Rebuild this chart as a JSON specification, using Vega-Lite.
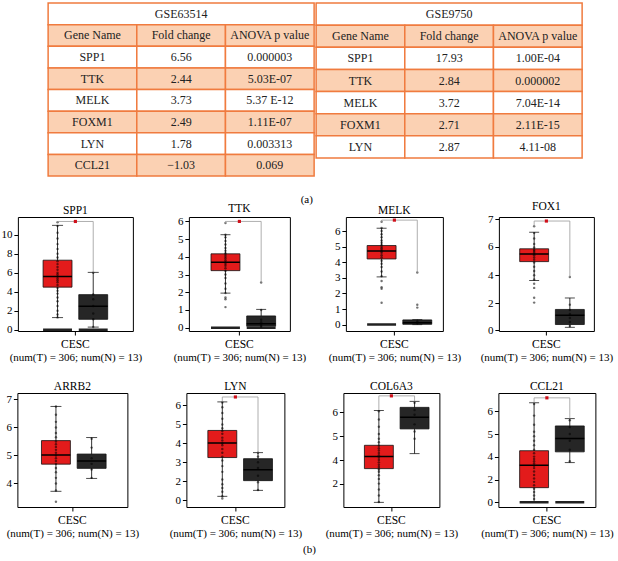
{
"$schema": "https://vega.github.io/schema/vega-lite/v6.json",
"padding": {"left": 0, "right": 0, "top": 2, "bottom": 0},
"config": {
 "font": "Liberation Serif",
 "view": {"stroke": "#000", "strokeWidth": 1},
 "axis": {"labelFont": "Liberation Serif", "titleFont": "Liberation Serif", "labelOverlap": false},
 "axisY": {"domain": false, "grid": false, "tickSize": 4, "tickColor": "#000", "labelColor": "#000", "labelFontSize": 11, "labelPadding": 2, "title": null, "labelOverlap": false},
 "axisX": {"domain": false, "grid": false, "tickSize": 4, "tickColor": "#000", "labelAngle": 0, "labelFontSize": 11.5, "labelColor": "#000", "titleFontSize": 11, "titleFontWeight": "normal", "titlePadding": 2, "titleColor": "#000", "labelPadding": 3},
 "title": {"font": "Liberation Serif", "fontSize": 11.5, "fontWeight": "normal", "offset": 1, "color": "#000"}
},
"datasets": {
 "tb": [
  {"tb":"L","r":"title","t":"GSE63514","hl":false},
  {"tb":"L","r":"header","col":"Gene Name","t":"Gene Name","hl":true},
  {"tb":"L","r":"header","col":"Fold change","t":"Fold change","hl":true},
  {"tb":"L","r":"header","col":"ANOVA p value","t":"ANOVA p value","hl":true},
  {"tb":"L","r":"SPP1","col":"Gene Name","t":"SPP1","hl":false},
  {"tb":"L","r":"SPP1","col":"Fold change","t":"6.56","hl":false},
  {"tb":"L","r":"SPP1","col":"ANOVA p value","t":"0.000003","hl":false},
  {"tb":"L","r":"TTK","col":"Gene Name","t":"TTK","hl":true},
  {"tb":"L","r":"TTK","col":"Fold change","t":"2.44","hl":true},
  {"tb":"L","r":"TTK","col":"ANOVA p value","t":"5.03E-07","hl":true},
  {"tb":"L","r":"MELK","col":"Gene Name","t":"MELK","hl":false},
  {"tb":"L","r":"MELK","col":"Fold change","t":"3.73","hl":false},
  {"tb":"L","r":"MELK","col":"ANOVA p value","t":"5.37 E-12","hl":false},
  {"tb":"L","r":"FOXM1","col":"Gene Name","t":"FOXM1","hl":true},
  {"tb":"L","r":"FOXM1","col":"Fold change","t":"2.49","hl":true},
  {"tb":"L","r":"FOXM1","col":"ANOVA p value","t":"1.11E-07","hl":true},
  {"tb":"L","r":"LYN","col":"Gene Name","t":"LYN","hl":false},
  {"tb":"L","r":"LYN","col":"Fold change","t":"1.78","hl":false},
  {"tb":"L","r":"LYN","col":"ANOVA p value","t":"0.003313","hl":false},
  {"tb":"L","r":"CCL21","col":"Gene Name","t":"CCL21","hl":true},
  {"tb":"L","r":"CCL21","col":"Fold change","t":"−1.03","hl":true},
  {"tb":"L","r":"CCL21","col":"ANOVA p value","t":"0.069","hl":true},
  {"tb":"R","r":"title","t":"GSE9750","hl":false},
  {"tb":"R","r":"header","col":"Gene Name","t":"Gene Name","hl":true},
  {"tb":"R","r":"header","col":"Fold change","t":"Fold change","hl":true},
  {"tb":"R","r":"header","col":"ANOVA p value","t":"ANOVA p value","hl":true},
  {"tb":"R","r":"SPP1","col":"Gene Name","t":"SPP1","hl":false},
  {"tb":"R","r":"SPP1","col":"Fold change","t":"17.93","hl":false},
  {"tb":"R","r":"SPP1","col":"ANOVA p value","t":"1.00E-04","hl":false},
  {"tb":"R","r":"TTK","col":"Gene Name","t":"TTK","hl":true},
  {"tb":"R","r":"TTK","col":"Fold change","t":"2.84","hl":true},
  {"tb":"R","r":"TTK","col":"ANOVA p value","t":"0.000002","hl":true},
  {"tb":"R","r":"MELK","col":"Gene Name","t":"MELK","hl":false},
  {"tb":"R","r":"MELK","col":"Fold change","t":"3.72","hl":false},
  {"tb":"R","r":"MELK","col":"ANOVA p value","t":"7.04E-14","hl":false},
  {"tb":"R","r":"FOXM1","col":"Gene Name","t":"FOXM1","hl":true},
  {"tb":"R","r":"FOXM1","col":"Fold change","t":"2.71","hl":true},
  {"tb":"R","r":"FOXM1","col":"ANOVA p value","t":"2.11E-15","hl":true},
  {"tb":"R","r":"LYN","col":"Gene Name","t":"LYN","hl":false},
  {"tb":"R","r":"LYN","col":"Fold change","t":"2.87","hl":false},
  {"tb":"R","r":"LYN","col":"ANOVA p value","t":"4.11-08","hl":false}
 ],
 "bx": [
  {"p":"SPP1","c":"CESC","k":"box","g":"T","lo":1.28,"q1":4.48,"med":5.59,"q3":7.31,"hi":10.97},
  {"p":"SPP1","c":"CESC","k":"box","g":"N","lo":0.28,"q1":1.1,"med":2.48,"q3":3.69,"hi":6.03},
  {"p":"TTK","c":"CESC","k":"box","g":"T","lo":1.95,"q1":3.22,"med":3.69,"q3":4.17,"hi":5.25},
  {"p":"TTK","c":"CESC","k":"box","g":"N","lo":0,"q1":0.08,"med":0.22,"q3":0.66,"hi":1.03},
  {"p":"MELK","c":"CESC","k":"box","g":"T","lo":3.06,"q1":4.21,"med":4.72,"q3":5.07,"hi":6.18},
  {"p":"MELK","c":"CESC","k":"box","g":"N","lo":0,"q1":0.02,"med":0.12,"q3":0.3,"hi":0.32},
  {"p":"FOX1","c":"CESC","k":"box","g":"T","lo":3.63,"q1":4.96,"med":5.49,"q3":5.86,"hi":6.53},
  {"p":"FOX1","c":"CESC","k":"box","g":"N","lo":0.2,"q1":0.41,"med":1.1,"q3":1.54,"hi":2.38},
  {"p":"ARRB2","c":"CESC","k":"box","g":"T","lo":3.72,"q1":4.69,"med":5.02,"q3":5.53,"hi":6.75},
  {"p":"ARRB2","c":"CESC","k":"box","g":"N","lo":4.18,"q1":4.54,"med":4.8,"q3":5.05,"hi":5.64},
  {"p":"LYN","c":"CESC","k":"box","g":"T","lo":0.42,"q1":3.25,"med":4.02,"q3":4.68,"hi":6.18},
  {"p":"LYN","c":"CESC","k":"box","g":"N","lo":1.05,"q1":2.04,"med":2.61,"q3":3.19,"hi":3.51},
  {"p":"COL6A3","c":"CESC","k":"box","g":"T","lo":0.42,"q1":3.27,"med":4.15,"q3":4.62,"hi":6.08},
  {"p":"COL6A3","c":"CESC","k":"box","g":"N","lo":4.27,"q1":5.31,"med":5.8,"q3":6.21,"hi":6.46},
  {"p":"CCL21","c":"CESC","k":"box","g":"T","lo":0,"q1":1.29,"med":3.25,"q3":4.26,"hi":6.36},
  {"p":"CCL21","c":"CESC","k":"box","g":"N","lo":3.48,"q1":4.21,"med":4.8,"q3":5.35,"hi":5.67},

  {"p":"SPP1","c":"CESC","k":"zero","g":"T","v":0},
  {"p":"SPP1","c":"CESC","k":"zero","g":"N","v":0},
  {"p":"TTK","c":"CESC","k":"zero","g":"T","v":0},
  {"p":"TTK","c":"CESC","k":"zero","g":"N","v":0},
  {"p":"MELK","c":"CESC","k":"zero","g":"T","v":0},
  {"p":"CCL21","c":"CESC","k":"zero","g":"T","v":0},
  {"p":"CCL21","c":"CESC","k":"zero","g":"N","v":0},

  {"p":"SPP1","c":"CESC","k":"brk","g":"T","v":11.3,"s":1},
  {"p":"SPP1","c":"CESC","k":"brk","g":"T","v":11.38,"s":2},
  {"p":"SPP1","c":"CESC","k":"brk","g":"N","v":11.38,"s":3},
  {"p":"SPP1","c":"CESC","k":"brk","g":"N","v":6.03,"s":4},
  {"p":"TTK","c":"CESC","k":"brk","g":"T","v":5.91,"s":1},
  {"p":"TTK","c":"CESC","k":"brk","g":"T","v":6.0,"s":2},
  {"p":"TTK","c":"CESC","k":"brk","g":"N","v":6.0,"s":3},
  {"p":"TTK","c":"CESC","k":"brk","g":"N","v":2.55,"s":4},
  {"p":"MELK","c":"CESC","k":"brk","g":"T","v":6.6,"s":1},
  {"p":"MELK","c":"CESC","k":"brk","g":"T","v":6.7,"s":2},
  {"p":"MELK","c":"CESC","k":"brk","g":"N","v":6.7,"s":3},
  {"p":"MELK","c":"CESC","k":"brk","g":"N","v":3.34,"s":4},
  {"p":"FOX1","c":"CESC","k":"brk","g":"T","v":6.75,"s":1},
  {"p":"FOX1","c":"CESC","k":"brk","g":"T","v":6.94,"s":2},
  {"p":"FOX1","c":"CESC","k":"brk","g":"N","v":6.94,"s":3},
  {"p":"FOX1","c":"CESC","k":"brk","g":"N","v":3.88,"s":4},
  {"p":"LYN","c":"CESC","k":"brk","g":"T","v":6.2,"s":1},
  {"p":"LYN","c":"CESC","k":"brk","g":"T","v":6.44,"s":2},
  {"p":"LYN","c":"CESC","k":"brk","g":"N","v":6.44,"s":3},
  {"p":"LYN","c":"CESC","k":"brk","g":"N","v":3.51,"s":4},
  {"p":"COL6A3","c":"CESC","k":"brk","g":"T","v":6.1,"s":1},
  {"p":"COL6A3","c":"CESC","k":"brk","g":"T","v":6.69,"s":2},
  {"p":"COL6A3","c":"CESC","k":"brk","g":"N","v":6.69,"s":3},
  {"p":"COL6A3","c":"CESC","k":"brk","g":"N","v":6.46,"s":4},
  {"p":"CCL21","c":"CESC","k":"brk","g":"T","v":6.36,"s":1},
  {"p":"CCL21","c":"CESC","k":"brk","g":"T","v":6.57,"s":2},
  {"p":"CCL21","c":"CESC","k":"brk","g":"N","v":6.57,"s":3},
  {"p":"CCL21","c":"CESC","k":"brk","g":"N","v":5.67,"s":4},

  {"p":"SPP1","c":"CESC","k":"sig","v":11.38},
  {"p":"TTK","c":"CESC","k":"sig","v":6.0},
  {"p":"MELK","c":"CESC","k":"sig","v":6.7},
  {"p":"FOX1","c":"CESC","k":"sig","v":6.94},
  {"p":"LYN","c":"CESC","k":"sig","v":6.44},
  {"p":"COL6A3","c":"CESC","k":"sig","v":6.69},
  {"p":"CCL21","c":"CESC","k":"sig","v":6.57},

  {"p":"SPP1","c":"CESC","k":"pt","g":"T","v":1.3},{"p":"SPP1","c":"CESC","k":"pt","g":"T","v":1.6},{"p":"SPP1","c":"CESC","k":"pt","g":"T","v":2.0},{"p":"SPP1","c":"CESC","k":"pt","g":"T","v":2.5},{"p":"SPP1","c":"CESC","k":"pt","g":"T","v":3.0},{"p":"SPP1","c":"CESC","k":"pt","g":"T","v":3.4},{"p":"SPP1","c":"CESC","k":"pt","g":"T","v":3.8},{"p":"SPP1","c":"CESC","k":"pt","g":"T","v":4.1},{"p":"SPP1","c":"CESC","k":"pt","g":"T","v":4.4},{"p":"SPP1","c":"CESC","k":"pt","g":"T","v":4.7},{"p":"SPP1","c":"CESC","k":"pt","g":"T","v":5.0},{"p":"SPP1","c":"CESC","k":"pt","g":"T","v":5.2},{"p":"SPP1","c":"CESC","k":"pt","g":"T","v":5.4},{"p":"SPP1","c":"CESC","k":"pt","g":"T","v":5.6},{"p":"SPP1","c":"CESC","k":"pt","g":"T","v":5.8},{"p":"SPP1","c":"CESC","k":"pt","g":"T","v":6.0},{"p":"SPP1","c":"CESC","k":"pt","g":"T","v":6.3},{"p":"SPP1","c":"CESC","k":"pt","g":"T","v":6.6},{"p":"SPP1","c":"CESC","k":"pt","g":"T","v":6.9},{"p":"SPP1","c":"CESC","k":"pt","g":"T","v":7.2},{"p":"SPP1","c":"CESC","k":"pt","g":"T","v":7.6},{"p":"SPP1","c":"CESC","k":"pt","g":"T","v":8.0},{"p":"SPP1","c":"CESC","k":"pt","g":"T","v":8.5},{"p":"SPP1","c":"CESC","k":"pt","g":"T","v":9.0},{"p":"SPP1","c":"CESC","k":"pt","g":"T","v":9.6},{"p":"SPP1","c":"CESC","k":"pt","g":"T","v":10.2},{"p":"SPP1","c":"CESC","k":"pt","g":"T","v":10.9},{"p":"SPP1","c":"CESC","k":"pt","g":"T","v":11.3},
  {"p":"SPP1","c":"CESC","k":"pt","g":"N","v":0.3},{"p":"SPP1","c":"CESC","k":"pt","g":"N","v":1.1},{"p":"SPP1","c":"CESC","k":"pt","g":"N","v":1.7},{"p":"SPP1","c":"CESC","k":"pt","g":"N","v":2.5},{"p":"SPP1","c":"CESC","k":"pt","g":"N","v":3.2},{"p":"SPP1","c":"CESC","k":"pt","g":"N","v":3.7},{"p":"SPP1","c":"CESC","k":"pt","g":"N","v":6.0},
  {"p":"TTK","c":"CESC","k":"pt","g":"T","v":1.16},{"p":"TTK","c":"CESC","k":"pt","g":"T","v":1.6},{"p":"TTK","c":"CESC","k":"pt","g":"T","v":1.7},{"p":"TTK","c":"CESC","k":"pt","g":"T","v":1.95},{"p":"TTK","c":"CESC","k":"pt","g":"T","v":2.2},{"p":"TTK","c":"CESC","k":"pt","g":"T","v":2.5},{"p":"TTK","c":"CESC","k":"pt","g":"T","v":2.8},{"p":"TTK","c":"CESC","k":"pt","g":"T","v":3.0},{"p":"TTK","c":"CESC","k":"pt","g":"T","v":3.2},{"p":"TTK","c":"CESC","k":"pt","g":"T","v":3.35},{"p":"TTK","c":"CESC","k":"pt","g":"T","v":3.5},{"p":"TTK","c":"CESC","k":"pt","g":"T","v":3.6},{"p":"TTK","c":"CESC","k":"pt","g":"T","v":3.7},{"p":"TTK","c":"CESC","k":"pt","g":"T","v":3.8},{"p":"TTK","c":"CESC","k":"pt","g":"T","v":3.9},{"p":"TTK","c":"CESC","k":"pt","g":"T","v":4.0},{"p":"TTK","c":"CESC","k":"pt","g":"T","v":4.1},{"p":"TTK","c":"CESC","k":"pt","g":"T","v":4.2},{"p":"TTK","c":"CESC","k":"pt","g":"T","v":4.35},{"p":"TTK","c":"CESC","k":"pt","g":"T","v":4.5},{"p":"TTK","c":"CESC","k":"pt","g":"T","v":4.7},{"p":"TTK","c":"CESC","k":"pt","g":"T","v":4.9},{"p":"TTK","c":"CESC","k":"pt","g":"T","v":5.1},{"p":"TTK","c":"CESC","k":"pt","g":"T","v":5.25},{"p":"TTK","c":"CESC","k":"pt","g":"T","v":5.91},
  {"p":"TTK","c":"CESC","k":"pt","g":"N","v":0.05},{"p":"TTK","c":"CESC","k":"pt","g":"N","v":0.15},{"p":"TTK","c":"CESC","k":"pt","g":"N","v":0.3},{"p":"TTK","c":"CESC","k":"pt","g":"N","v":0.45},{"p":"TTK","c":"CESC","k":"pt","g":"N","v":1.0},{"p":"TTK","c":"CESC","k":"pt","g":"N","v":2.55},
  {"p":"MELK","c":"CESC","k":"pt","g":"T","v":1.4},{"p":"MELK","c":"CESC","k":"pt","g":"T","v":2.3},{"p":"MELK","c":"CESC","k":"pt","g":"T","v":2.4},{"p":"MELK","c":"CESC","k":"pt","g":"T","v":2.8},{"p":"MELK","c":"CESC","k":"pt","g":"T","v":3.1},{"p":"MELK","c":"CESC","k":"pt","g":"T","v":3.4},{"p":"MELK","c":"CESC","k":"pt","g":"T","v":3.7},{"p":"MELK","c":"CESC","k":"pt","g":"T","v":3.9},{"p":"MELK","c":"CESC","k":"pt","g":"T","v":4.1},{"p":"MELK","c":"CESC","k":"pt","g":"T","v":4.3},{"p":"MELK","c":"CESC","k":"pt","g":"T","v":4.45},{"p":"MELK","c":"CESC","k":"pt","g":"T","v":4.6},{"p":"MELK","c":"CESC","k":"pt","g":"T","v":4.7},{"p":"MELK","c":"CESC","k":"pt","g":"T","v":4.8},{"p":"MELK","c":"CESC","k":"pt","g":"T","v":4.9},{"p":"MELK","c":"CESC","k":"pt","g":"T","v":5.0},{"p":"MELK","c":"CESC","k":"pt","g":"T","v":5.1},{"p":"MELK","c":"CESC","k":"pt","g":"T","v":5.25},{"p":"MELK","c":"CESC","k":"pt","g":"T","v":5.4},{"p":"MELK","c":"CESC","k":"pt","g":"T","v":5.6},{"p":"MELK","c":"CESC","k":"pt","g":"T","v":5.8},{"p":"MELK","c":"CESC","k":"pt","g":"T","v":6.0},{"p":"MELK","c":"CESC","k":"pt","g":"T","v":6.2},{"p":"MELK","c":"CESC","k":"pt","g":"T","v":6.6},
  {"p":"MELK","c":"CESC","k":"pt","g":"N","v":0.1},{"p":"MELK","c":"CESC","k":"pt","g":"N","v":0.2},{"p":"MELK","c":"CESC","k":"pt","g":"N","v":1.09},{"p":"MELK","c":"CESC","k":"pt","g":"N","v":1.27},{"p":"MELK","c":"CESC","k":"pt","g":"N","v":3.34},
  {"p":"FOX1","c":"CESC","k":"pt","g":"T","v":2.05},{"p":"FOX1","c":"CESC","k":"pt","g":"T","v":2.4},{"p":"FOX1","c":"CESC","k":"pt","g":"T","v":3.1},{"p":"FOX1","c":"CESC","k":"pt","g":"T","v":3.4},{"p":"FOX1","c":"CESC","k":"pt","g":"T","v":3.7},{"p":"FOX1","c":"CESC","k":"pt","g":"T","v":4.0},{"p":"FOX1","c":"CESC","k":"pt","g":"T","v":4.3},{"p":"FOX1","c":"CESC","k":"pt","g":"T","v":4.6},{"p":"FOX1","c":"CESC","k":"pt","g":"T","v":4.9},{"p":"FOX1","c":"CESC","k":"pt","g":"T","v":5.1},{"p":"FOX1","c":"CESC","k":"pt","g":"T","v":5.25},{"p":"FOX1","c":"CESC","k":"pt","g":"T","v":5.4},{"p":"FOX1","c":"CESC","k":"pt","g":"T","v":5.5},{"p":"FOX1","c":"CESC","k":"pt","g":"T","v":5.6},{"p":"FOX1","c":"CESC","k":"pt","g":"T","v":5.7},{"p":"FOX1","c":"CESC","k":"pt","g":"T","v":5.8},{"p":"FOX1","c":"CESC","k":"pt","g":"T","v":5.95},{"p":"FOX1","c":"CESC","k":"pt","g":"T","v":6.1},{"p":"FOX1","c":"CESC","k":"pt","g":"T","v":6.3},{"p":"FOX1","c":"CESC","k":"pt","g":"T","v":6.5},{"p":"FOX1","c":"CESC","k":"pt","g":"T","v":6.75},
  {"p":"FOX1","c":"CESC","k":"pt","g":"N","v":0.3},{"p":"FOX1","c":"CESC","k":"pt","g":"N","v":0.6},{"p":"FOX1","c":"CESC","k":"pt","g":"N","v":0.9},{"p":"FOX1","c":"CESC","k":"pt","g":"N","v":1.2},{"p":"FOX1","c":"CESC","k":"pt","g":"N","v":1.5},{"p":"FOX1","c":"CESC","k":"pt","g":"N","v":1.9},{"p":"FOX1","c":"CESC","k":"pt","g":"N","v":3.88},
  {"p":"ARRB2","c":"CESC","k":"pt","g":"T","v":3.35},{"p":"ARRB2","c":"CESC","k":"pt","g":"T","v":3.75},{"p":"ARRB2","c":"CESC","k":"pt","g":"T","v":4.0},{"p":"ARRB2","c":"CESC","k":"pt","g":"T","v":4.2},{"p":"ARRB2","c":"CESC","k":"pt","g":"T","v":4.4},{"p":"ARRB2","c":"CESC","k":"pt","g":"T","v":4.55},{"p":"ARRB2","c":"CESC","k":"pt","g":"T","v":4.7},{"p":"ARRB2","c":"CESC","k":"pt","g":"T","v":4.8},{"p":"ARRB2","c":"CESC","k":"pt","g":"T","v":4.9},{"p":"ARRB2","c":"CESC","k":"pt","g":"T","v":5.0},{"p":"ARRB2","c":"CESC","k":"pt","g":"T","v":5.1},{"p":"ARRB2","c":"CESC","k":"pt","g":"T","v":5.2},{"p":"ARRB2","c":"CESC","k":"pt","g":"T","v":5.3},{"p":"ARRB2","c":"CESC","k":"pt","g":"T","v":5.4},{"p":"ARRB2","c":"CESC","k":"pt","g":"T","v":5.5},{"p":"ARRB2","c":"CESC","k":"pt","g":"T","v":5.65},{"p":"ARRB2","c":"CESC","k":"pt","g":"T","v":5.8},{"p":"ARRB2","c":"CESC","k":"pt","g":"T","v":6.0},{"p":"ARRB2","c":"CESC","k":"pt","g":"T","v":6.2},{"p":"ARRB2","c":"CESC","k":"pt","g":"T","v":6.45},{"p":"ARRB2","c":"CESC","k":"pt","g":"T","v":6.75},
  {"p":"ARRB2","c":"CESC","k":"pt","g":"N","v":4.2},{"p":"ARRB2","c":"CESC","k":"pt","g":"N","v":4.5},{"p":"ARRB2","c":"CESC","k":"pt","g":"N","v":4.7},{"p":"ARRB2","c":"CESC","k":"pt","g":"N","v":4.9},{"p":"ARRB2","c":"CESC","k":"pt","g":"N","v":5.28},{"p":"ARRB2","c":"CESC","k":"pt","g":"N","v":5.6},
  {"p":"LYN","c":"CESC","k":"pt","g":"T","v":0.18},{"p":"LYN","c":"CESC","k":"pt","g":"T","v":0.42},{"p":"LYN","c":"CESC","k":"pt","g":"T","v":0.9},{"p":"LYN","c":"CESC","k":"pt","g":"T","v":1.3},{"p":"LYN","c":"CESC","k":"pt","g":"T","v":1.7},{"p":"LYN","c":"CESC","k":"pt","g":"T","v":2.1},{"p":"LYN","c":"CESC","k":"pt","g":"T","v":2.5},{"p":"LYN","c":"CESC","k":"pt","g":"T","v":2.8},{"p":"LYN","c":"CESC","k":"pt","g":"T","v":3.1},{"p":"LYN","c":"CESC","k":"pt","g":"T","v":3.3},{"p":"LYN","c":"CESC","k":"pt","g":"T","v":3.5},{"p":"LYN","c":"CESC","k":"pt","g":"T","v":3.7},{"p":"LYN","c":"CESC","k":"pt","g":"T","v":3.9},{"p":"LYN","c":"CESC","k":"pt","g":"T","v":4.0},{"p":"LYN","c":"CESC","k":"pt","g":"T","v":4.15},{"p":"LYN","c":"CESC","k":"pt","g":"T","v":4.3},{"p":"LYN","c":"CESC","k":"pt","g":"T","v":4.5},{"p":"LYN","c":"CESC","k":"pt","g":"T","v":4.65},{"p":"LYN","c":"CESC","k":"pt","g":"T","v":4.8},{"p":"LYN","c":"CESC","k":"pt","g":"T","v":5.0},{"p":"LYN","c":"CESC","k":"pt","g":"T","v":5.3},{"p":"LYN","c":"CESC","k":"pt","g":"T","v":5.6},{"p":"LYN","c":"CESC","k":"pt","g":"T","v":5.9},{"p":"LYN","c":"CESC","k":"pt","g":"T","v":6.15},
  {"p":"LYN","c":"CESC","k":"pt","g":"N","v":1.1},{"p":"LYN","c":"CESC","k":"pt","g":"N","v":1.9},{"p":"LYN","c":"CESC","k":"pt","g":"N","v":2.3},{"p":"LYN","c":"CESC","k":"pt","g":"N","v":2.7},{"p":"LYN","c":"CESC","k":"pt","g":"N","v":3.0},{"p":"LYN","c":"CESC","k":"pt","g":"N","v":3.3},{"p":"LYN","c":"CESC","k":"pt","g":"N","v":3.5},
  {"p":"COL6A3","c":"CESC","k":"pt","g":"T","v":0.45},{"p":"COL6A3","c":"CESC","k":"pt","g":"T","v":1.0},{"p":"COL6A3","c":"CESC","k":"pt","g":"T","v":1.5},{"p":"COL6A3","c":"CESC","k":"pt","g":"T","v":2.0},{"p":"COL6A3","c":"CESC","k":"pt","g":"T","v":2.4},{"p":"COL6A3","c":"CESC","k":"pt","g":"T","v":2.7},{"p":"COL6A3","c":"CESC","k":"pt","g":"T","v":3.0},{"p":"COL6A3","c":"CESC","k":"pt","g":"T","v":3.2},{"p":"COL6A3","c":"CESC","k":"pt","g":"T","v":3.4},{"p":"COL6A3","c":"CESC","k":"pt","g":"T","v":3.6},{"p":"COL6A3","c":"CESC","k":"pt","g":"T","v":3.8},{"p":"COL6A3","c":"CESC","k":"pt","g":"T","v":4.0},{"p":"COL6A3","c":"CESC","k":"pt","g":"T","v":4.1},{"p":"COL6A3","c":"CESC","k":"pt","g":"T","v":4.2},{"p":"COL6A3","c":"CESC","k":"pt","g":"T","v":4.3},{"p":"COL6A3","c":"CESC","k":"pt","g":"T","v":4.4},{"p":"COL6A3","c":"CESC","k":"pt","g":"T","v":4.5},{"p":"COL6A3","c":"CESC","k":"pt","g":"T","v":4.6},{"p":"COL6A3","c":"CESC","k":"pt","g":"T","v":4.75},{"p":"COL6A3","c":"CESC","k":"pt","g":"T","v":4.9},{"p":"COL6A3","c":"CESC","k":"pt","g":"T","v":5.1},{"p":"COL6A3","c":"CESC","k":"pt","g":"T","v":5.4},{"p":"COL6A3","c":"CESC","k":"pt","g":"T","v":5.7},{"p":"COL6A3","c":"CESC","k":"pt","g":"T","v":6.05},
  {"p":"COL6A3","c":"CESC","k":"pt","g":"N","v":4.9},{"p":"COL6A3","c":"CESC","k":"pt","g":"N","v":5.2},{"p":"COL6A3","c":"CESC","k":"pt","g":"N","v":5.5},{"p":"COL6A3","c":"CESC","k":"pt","g":"N","v":5.9},{"p":"COL6A3","c":"CESC","k":"pt","g":"N","v":6.1},{"p":"COL6A3","c":"CESC","k":"pt","g":"N","v":6.4},
  {"p":"CCL21","c":"CESC","k":"pt","g":"T","v":0.3},{"p":"CCL21","c":"CESC","k":"pt","g":"T","v":0.6},{"p":"CCL21","c":"CESC","k":"pt","g":"T","v":0.9},{"p":"CCL21","c":"CESC","k":"pt","g":"T","v":1.2},{"p":"CCL21","c":"CESC","k":"pt","g":"T","v":1.5},{"p":"CCL21","c":"CESC","k":"pt","g":"T","v":1.8},{"p":"CCL21","c":"CESC","k":"pt","g":"T","v":2.1},{"p":"CCL21","c":"CESC","k":"pt","g":"T","v":2.4},{"p":"CCL21","c":"CESC","k":"pt","g":"T","v":2.7},{"p":"CCL21","c":"CESC","k":"pt","g":"T","v":3.0},{"p":"CCL21","c":"CESC","k":"pt","g":"T","v":3.2},{"p":"CCL21","c":"CESC","k":"pt","g":"T","v":3.4},{"p":"CCL21","c":"CESC","k":"pt","g":"T","v":3.6},{"p":"CCL21","c":"CESC","k":"pt","g":"T","v":3.8},{"p":"CCL21","c":"CESC","k":"pt","g":"T","v":4.0},{"p":"CCL21","c":"CESC","k":"pt","g":"T","v":4.15},{"p":"CCL21","c":"CESC","k":"pt","g":"T","v":4.3},{"p":"CCL21","c":"CESC","k":"pt","g":"T","v":4.5},{"p":"CCL21","c":"CESC","k":"pt","g":"T","v":4.7},{"p":"CCL21","c":"CESC","k":"pt","g":"T","v":4.9},{"p":"CCL21","c":"CESC","k":"pt","g":"T","v":5.1},{"p":"CCL21","c":"CESC","k":"pt","g":"T","v":5.4},{"p":"CCL21","c":"CESC","k":"pt","g":"T","v":5.8},{"p":"CCL21","c":"CESC","k":"pt","g":"T","v":6.3},
  {"p":"CCL21","c":"CESC","k":"pt","g":"N","v":3.6},{"p":"CCL21","c":"CESC","k":"pt","g":"N","v":4.3},{"p":"CCL21","c":"CESC","k":"pt","g":"N","v":4.7},{"p":"CCL21","c":"CESC","k":"pt","g":"N","v":5.0},{"p":"CCL21","c":"CESC","k":"pt","g":"N","v":5.3},{"p":"CCL21","c":"CESC","k":"pt","g":"N","v":5.6}
 ]
},
"center": true,
"spacing": 17,
"vconcat": [
 {"hconcat": [
  {"width": 266, "height": 173, "view": {"stroke": null}, "data": {"name": "tb"},
   "transform": [{"filter": "datum.tb == 'L'"}],
   "encoding": {"y": {"field": "r", "type": "nominal", "scale": {"domain": ["title","header","SPP1","TTK","MELK","FOXM1","LYN","CCL21"], "paddingInner": 0, "paddingOuter": 0}, "axis": null}},
   "layer": [
    {"transform": [{"filter": "datum.r == 'title'"}], "mark": {"type": "rect", "fill": "#ffffff", "stroke": "#f07b3f", "strokeWidth": 1.5}},
    {"transform": [{"filter": "datum.r != 'title'"}], "mark": {"type": "rect", "stroke": "#f07b3f", "strokeWidth": 1.5},
     "encoding": {"x": {"field": "col", "type": "nominal", "scale": {"domain": ["Gene Name","Fold change","ANOVA p value"], "paddingInner": 0, "paddingOuter": 0}, "axis": null},
      "fill": {"condition": {"test": "datum.hl", "value": "#fbd1b3"}, "value": "#ffffff"}}},
    {"transform": [{"filter": "datum.r == 'title'"}], "mark": {"type": "text", "font": "Liberation Serif", "fontSize": 12, "color": "#222"}, "encoding": {"text": {"field": "t"}}},
    {"transform": [{"filter": "datum.r != 'title'"}], "mark": {"type": "text", "font": "Liberation Serif", "fontSize": 12, "color": "#222"},
     "encoding": {"x": {"field": "col", "type": "nominal"}, "text": {"field": "t"}, "fontWeight": {"condition": {"test": "datum.hl", "value": "bold"}, "value": "normal"}}}
   ]},
  {"width": 266, "height": 155, "view": {"stroke": null}, "data": {"name": "tb"},
   "transform": [{"filter": "datum.tb == 'R'"}],
   "encoding": {"y": {"field": "r", "type": "nominal", "scale": {"domain": ["title","header","SPP1","TTK","MELK","FOXM1","LYN"], "paddingInner": 0, "paddingOuter": 0}, "axis": null}},
   "layer": [
    {"transform": [{"filter": "datum.r == 'title'"}], "mark": {"type": "rect", "fill": "#ffffff", "stroke": "#f07b3f", "strokeWidth": 1.5}},
    {"transform": [{"filter": "datum.r != 'title'"}], "mark": {"type": "rect", "stroke": "#f07b3f", "strokeWidth": 1.5},
     "encoding": {"x": {"field": "col", "type": "nominal", "scale": {"domain": ["Gene Name","Fold change","ANOVA p value"], "paddingInner": 0, "paddingOuter": 0}, "axis": null},
      "fill": {"condition": {"test": "datum.hl", "value": "#fbd1b3"}, "value": "#ffffff"}}},
    {"transform": [{"filter": "datum.r == 'title'"}], "mark": {"type": "text", "font": "Liberation Serif", "fontSize": 12, "color": "#222"}, "encoding": {"text": {"field": "t"}}},
    {"transform": [{"filter": "datum.r != 'title'"}], "mark": {"type": "text", "font": "Liberation Serif", "fontSize": 12, "color": "#222"},
     "encoding": {"x": {"field": "col", "type": "nominal"}, "text": {"field": "t"}, "fontWeight": {"condition": {"test": "datum.hl", "value": "bold"}, "value": "normal"}}}
   ]}
 ], "spacing": 0},
 {"title": {"text": "(a)", "anchor": "middle", "offset": -5, "fontSize": 11},
  "bounds": "flush", "spacing": 56,
  "hconcat": [
  {"width": 115, "height": 114, "title": "SPP1", "data": {"name": "bx"},
   "transform": [{"filter": "datum.p == 'SPP1'"}],
   "encoding": {"x": {"field": "c", "type": "nominal", "title": "(num(T) = 306; num(N) = 13)", "scale": {"paddingInner": 0, "paddingOuter": 0.39}}},
   "layer": [
    {"transform": [{"filter": "datum.k == 'box'"}], "mark": {"type": "rule", "color": "#000", "strokeWidth": 0.8},
     "encoding": {"xOffset": {"field": "g", "type": "nominal", "scale": {"domain": ["T","N"], "paddingInner": 0.19, "paddingOuter": 0}},
      "y": {"field": "lo", "type": "quantitative", "scale": {"domain": [-0.13, 11.85], "nice": false, "zero": false}, "axis": {"values": [0,2,4,6,8,10], "labelOverlap": false}},
      "y2": {"field": "hi"}}},
    {"transform": [{"filter": "datum.k == 'box'"}, {"fold": ["lo","hi"], "as": ["w","cv"]}], "mark": {"type": "tick", "color": "#000", "size": 11, "thickness": 1},
     "encoding": {"xOffset": {"field": "g", "type": "nominal"}, "y": {"field": "cv", "type": "quantitative", "axis": {"values": [0,2,4,6,8,10], "labelOverlap": false}}}},
    {"transform": [{"filter": "datum.k == 'box'"}], "mark": {"type": "bar", "stroke": "#111", "strokeWidth": 0.8},
     "encoding": {"xOffset": {"field": "g", "type": "nominal"}, "y": {"field": "q1", "type": "quantitative", "axis": {"values": [0,2,4,6,8,10], "labelOverlap": false}}, "y2": {"field": "q3"},
      "fill": {"field": "g", "type": "nominal", "scale": {"domain": ["T","N"], "range": ["#e31b1b","#262626"]}, "legend": null}}},
    {"transform": [{"filter": "datum.k == 'zero'"}], "mark": {"type": "bar", "fill": "#222", "stroke": "#222", "strokeWidth": 2.5},
     "encoding": {"xOffset": {"field": "g", "type": "nominal"}, "y": {"field": "v", "type": "quantitative", "axis": {"values": [0,2,4,6,8,10], "labelOverlap": false}}, "y2": {"field": "v"}}},
    {"transform": [{"filter": "datum.k == 'pt'"}], "mark": {"type": "circle", "size": 6, "color": "#000", "opacity": 0.55},
     "encoding": {"xOffset": {"field": "g", "type": "nominal"}, "y": {"field": "v", "type": "quantitative", "axis": {"values": [0,2,4,6,8,10], "labelOverlap": false}}}},
    {"transform": [{"filter": "datum.k == 'box'"}], "mark": {"type": "bar", "stroke": "#000", "strokeWidth": 1.5, "fillOpacity": 0},
     "encoding": {"xOffset": {"field": "g", "type": "nominal"}, "y": {"field": "med", "type": "quantitative", "axis": {"values": [0,2,4,6,8,10], "labelOverlap": false}}, "y2": {"field": "med"}}},
    {"transform": [{"filter": "datum.k == 'brk'"}], "mark": {"type": "line", "color": "#9a9a9a", "strokeWidth": 0.8},
     "encoding": {"xOffset": {"field": "g", "type": "nominal"}, "y": {"field": "v", "type": "quantitative", "axis": {"values": [0,2,4,6,8,10], "labelOverlap": false}}, "order": {"field": "s", "type": "quantitative"}}},
    {"transform": [{"filter": "datum.k == 'sig'"}], "mark": {"type": "square", "size": 10, "color": "#d0101b", "opacity": 1},
     "encoding": {"y": {"field": "v", "type": "quantitative", "axis": {"values": [0,2,4,6,8,10], "labelOverlap": false}}}}
   ]},
  {"width": 101, "height": 114, "title": "TTK", "data": {"name": "bx"},
   "transform": [{"filter": "datum.p == 'TTK'"}],
   "encoding": {"x": {"field": "c", "type": "nominal", "title": "(num(T) = 306; num(N) = 13)", "scale": {"paddingInner": 0, "paddingOuter": 0.39}}},
   "layer": [
    {"transform": [{"filter": "datum.k == 'box'"}], "mark": {"type": "rule", "color": "#000", "strokeWidth": 0.8},
     "encoding": {"xOffset": {"field": "g", "type": "nominal", "scale": {"domain": ["T","N"], "paddingInner": 0.19, "paddingOuter": 0}},
      "y": {"field": "lo", "type": "quantitative", "scale": {"domain": [-0.19, 6.25], "nice": false, "zero": false}, "axis": {"values": [0,1,2,3,4,5,6], "labelOverlap": false}},
      "y2": {"field": "hi"}}},
    {"transform": [{"filter": "datum.k == 'box'"}, {"fold": ["lo","hi"], "as": ["w","cv"]}], "mark": {"type": "tick", "color": "#000", "size": 10, "thickness": 1},
     "encoding": {"xOffset": {"field": "g", "type": "nominal"}, "y": {"field": "cv", "type": "quantitative", "axis": {"values": [0,1,2,3,4,5,6], "labelOverlap": false}}}},
    {"transform": [{"filter": "datum.k == 'box'"}], "mark": {"type": "bar", "stroke": "#111", "strokeWidth": 0.8},
     "encoding": {"xOffset": {"field": "g", "type": "nominal"}, "y": {"field": "q1", "type": "quantitative", "axis": {"values": [0,1,2,3,4,5,6], "labelOverlap": false}}, "y2": {"field": "q3"},
      "fill": {"field": "g", "type": "nominal", "scale": {"domain": ["T","N"], "range": ["#e31b1b","#262626"]}, "legend": null}}},
    {"transform": [{"filter": "datum.k == 'zero'"}], "mark": {"type": "bar", "fill": "#222", "stroke": "#222", "strokeWidth": 2.5},
     "encoding": {"xOffset": {"field": "g", "type": "nominal"}, "y": {"field": "v", "type": "quantitative", "axis": {"values": [0,1,2,3,4,5,6], "labelOverlap": false}}, "y2": {"field": "v"}}},
    {"transform": [{"filter": "datum.k == 'pt'"}], "mark": {"type": "circle", "size": 6, "color": "#000", "opacity": 0.55},
     "encoding": {"xOffset": {"field": "g", "type": "nominal"}, "y": {"field": "v", "type": "quantitative", "axis": {"values": [0,1,2,3,4,5,6], "labelOverlap": false}}}},
    {"transform": [{"filter": "datum.k == 'box'"}], "mark": {"type": "bar", "stroke": "#000", "strokeWidth": 1.5, "fillOpacity": 0},
     "encoding": {"xOffset": {"field": "g", "type": "nominal"}, "y": {"field": "med", "type": "quantitative", "axis": {"values": [0,1,2,3,4,5,6], "labelOverlap": false}}, "y2": {"field": "med"}}},
    {"transform": [{"filter": "datum.k == 'brk'"}], "mark": {"type": "line", "color": "#9a9a9a", "strokeWidth": 0.8},
     "encoding": {"xOffset": {"field": "g", "type": "nominal"}, "y": {"field": "v", "type": "quantitative", "axis": {"values": [0,1,2,3,4,5,6], "labelOverlap": false}}, "order": {"field": "s", "type": "quantitative"}}},
    {"transform": [{"filter": "datum.k == 'sig'"}], "mark": {"type": "square", "size": 10, "color": "#d0101b", "opacity": 1},
     "encoding": {"y": {"field": "v", "type": "quantitative", "axis": {"values": [0,1,2,3,4,5,6], "labelOverlap": false}}}}
   ]},
  {"width": 97, "height": 114, "title": "MELK", "data": {"name": "bx"},
   "transform": [{"filter": "datum.p == 'MELK'"}],
   "encoding": {"x": {"field": "c", "type": "nominal", "title": "(num(T) = 306; num(N) = 13)", "scale": {"paddingInner": 0, "paddingOuter": 0.39}}},
   "layer": [
    {"transform": [{"filter": "datum.k == 'box'"}], "mark": {"type": "rule", "color": "#000", "strokeWidth": 0.8},
     "encoding": {"xOffset": {"field": "g", "type": "nominal", "scale": {"domain": ["T","N"], "paddingInner": 0.19, "paddingOuter": 0}},
      "y": {"field": "lo", "type": "quantitative", "scale": {"domain": [-0.41, 6.9], "nice": false, "zero": false}, "axis": {"values": [0,1,2,3,4,5,6], "labelOverlap": false}},
      "y2": {"field": "hi"}}},
    {"transform": [{"filter": "datum.k == 'box'"}, {"fold": ["lo","hi"], "as": ["w","cv"]}], "mark": {"type": "tick", "color": "#000", "size": 10, "thickness": 1},
     "encoding": {"xOffset": {"field": "g", "type": "nominal"}, "y": {"field": "cv", "type": "quantitative", "axis": {"values": [0,1,2,3,4,5,6], "labelOverlap": false}}}},
    {"transform": [{"filter": "datum.k == 'box'"}], "mark": {"type": "bar", "stroke": "#111", "strokeWidth": 0.8},
     "encoding": {"xOffset": {"field": "g", "type": "nominal"}, "y": {"field": "q1", "type": "quantitative", "axis": {"values": [0,1,2,3,4,5,6], "labelOverlap": false}}, "y2": {"field": "q3"},
      "fill": {"field": "g", "type": "nominal", "scale": {"domain": ["T","N"], "range": ["#e31b1b","#262626"]}, "legend": null}}},
    {"transform": [{"filter": "datum.k == 'zero'"}], "mark": {"type": "bar", "fill": "#222", "stroke": "#222", "strokeWidth": 2.5},
     "encoding": {"xOffset": {"field": "g", "type": "nominal"}, "y": {"field": "v", "type": "quantitative", "axis": {"values": [0,1,2,3,4,5,6], "labelOverlap": false}}, "y2": {"field": "v"}}},
    {"transform": [{"filter": "datum.k == 'pt'"}], "mark": {"type": "circle", "size": 6, "color": "#000", "opacity": 0.55},
     "encoding": {"xOffset": {"field": "g", "type": "nominal"}, "y": {"field": "v", "type": "quantitative", "axis": {"values": [0,1,2,3,4,5,6], "labelOverlap": false}}}},
    {"transform": [{"filter": "datum.k == 'box'"}], "mark": {"type": "bar", "stroke": "#000", "strokeWidth": 1.5, "fillOpacity": 0},
     "encoding": {"xOffset": {"field": "g", "type": "nominal"}, "y": {"field": "med", "type": "quantitative", "axis": {"values": [0,1,2,3,4,5,6], "labelOverlap": false}}, "y2": {"field": "med"}}},
    {"transform": [{"filter": "datum.k == 'brk'"}], "mark": {"type": "line", "color": "#9a9a9a", "strokeWidth": 0.8},
     "encoding": {"xOffset": {"field": "g", "type": "nominal"}, "y": {"field": "v", "type": "quantitative", "axis": {"values": [0,1,2,3,4,5,6], "labelOverlap": false}}, "order": {"field": "s", "type": "quantitative"}}},
    {"transform": [{"filter": "datum.k == 'sig'"}], "mark": {"type": "square", "size": 10, "color": "#d0101b", "opacity": 1},
     "encoding": {"y": {"field": "v", "type": "quantitative", "axis": {"values": [0,1,2,3,4,5,6], "labelOverlap": false}}}}
   ]},
  {"width": 95, "height": 114, "title": "FOX1", "data": {"name": "bx"},
   "transform": [{"filter": "datum.p == 'FOX1'"}],
   "encoding": {"x": {"field": "c", "type": "nominal", "title": "(num(T) = 306; num(N) = 13)", "scale": {"paddingInner": 0, "paddingOuter": 0.39}}},
   "layer": [
    {"transform": [{"filter": "datum.k == 'box'"}], "mark": {"type": "rule", "color": "#000", "strokeWidth": 0.8},
     "encoding": {"xOffset": {"field": "g", "type": "nominal", "scale": {"domain": ["T","N"], "paddingInner": 0.19, "paddingOuter": 0}},
      "y": {"field": "lo", "type": "quantitative", "scale": {"domain": [-0.08, 0, 2, 4, 6, 7, 7.09], "range": [114, 113, 86.3, 58.3, 29.8, 2.4, 0], "nice": false, "zero": false}, "axis": {"values": [0,2,4,6,7], "labelOverlap": false}},
      "y2": {"field": "hi"}}},
    {"transform": [{"filter": "datum.k == 'box'"}, {"fold": ["lo","hi"], "as": ["w","cv"]}], "mark": {"type": "tick", "color": "#000", "size": 10, "thickness": 1},
     "encoding": {"xOffset": {"field": "g", "type": "nominal"}, "y": {"field": "cv", "type": "quantitative", "axis": {"values": [0,2,4,6,7], "labelOverlap": false}}}},
    {"transform": [{"filter": "datum.k == 'box'"}], "mark": {"type": "bar", "stroke": "#111", "strokeWidth": 0.8},
     "encoding": {"xOffset": {"field": "g", "type": "nominal"}, "y": {"field": "q1", "type": "quantitative", "axis": {"values": [0,2,4,6,7], "labelOverlap": false}}, "y2": {"field": "q3"},
      "fill": {"field": "g", "type": "nominal", "scale": {"domain": ["T","N"], "range": ["#e31b1b","#262626"]}, "legend": null}}},
    {"transform": [{"filter": "datum.k == 'zero'"}], "mark": {"type": "bar", "fill": "#222", "stroke": "#222", "strokeWidth": 2.5},
     "encoding": {"xOffset": {"field": "g", "type": "nominal"}, "y": {"field": "v", "type": "quantitative", "axis": {"values": [0,2,4,6,7], "labelOverlap": false}}, "y2": {"field": "v"}}},
    {"transform": [{"filter": "datum.k == 'pt'"}], "mark": {"type": "circle", "size": 6, "color": "#000", "opacity": 0.55},
     "encoding": {"xOffset": {"field": "g", "type": "nominal"}, "y": {"field": "v", "type": "quantitative", "axis": {"values": [0,2,4,6,7], "labelOverlap": false}}}},
    {"transform": [{"filter": "datum.k == 'box'"}], "mark": {"type": "bar", "stroke": "#000", "strokeWidth": 1.5, "fillOpacity": 0},
     "encoding": {"xOffset": {"field": "g", "type": "nominal"}, "y": {"field": "med", "type": "quantitative", "axis": {"values": [0,2,4,6,7], "labelOverlap": false}}, "y2": {"field": "med"}}},
    {"transform": [{"filter": "datum.k == 'brk'"}], "mark": {"type": "line", "color": "#9a9a9a", "strokeWidth": 0.8},
     "encoding": {"xOffset": {"field": "g", "type": "nominal"}, "y": {"field": "v", "type": "quantitative", "axis": {"values": [0,2,4,6,7], "labelOverlap": false}}, "order": {"field": "s", "type": "quantitative"}}},
    {"transform": [{"filter": "datum.k == 'sig'"}], "mark": {"type": "square", "size": 10, "color": "#d0101b", "opacity": 1},
     "encoding": {"y": {"field": "v", "type": "quantitative", "axis": {"values": [0,2,4,6,7], "labelOverlap": false}}}}
   ]}
 ]},
 {"title": {"text": "(b)", "anchor": "middle", "orient": "bottom", "offset": 5, "fontSize": 11},
  "bounds": "flush", "spacing": 59,
  "hconcat": [
  {"width": 110, "height": 114, "title": "ARRB2", "data": {"name": "bx"},
   "transform": [{"filter": "datum.p == 'ARRB2'"}],
   "encoding": {"x": {"field": "c", "type": "nominal", "title": "(num(T) = 306; num(N) = 13)", "scale": {"paddingInner": 0, "paddingOuter": 0.39}}},
   "layer": [
    {"transform": [{"filter": "datum.k == 'box'"}], "mark": {"type": "rule", "color": "#000", "strokeWidth": 0.8},
     "encoding": {"xOffset": {"field": "g", "type": "nominal", "scale": {"domain": ["T","N"], "paddingInner": 0.19, "paddingOuter": 0}},
      "y": {"field": "lo", "type": "quantitative", "scale": {"domain": [3.16, 7.23], "nice": false, "zero": false}, "axis": {"values": [4,5,6,7], "labelOverlap": false}},
      "y2": {"field": "hi"}}},
    {"transform": [{"filter": "datum.k == 'box'"}, {"fold": ["lo","hi"], "as": ["w","cv"]}], "mark": {"type": "tick", "color": "#000", "size": 11, "thickness": 1},
     "encoding": {"xOffset": {"field": "g", "type": "nominal"}, "y": {"field": "cv", "type": "quantitative", "axis": {"values": [4,5,6,7], "labelOverlap": false}}}},
    {"transform": [{"filter": "datum.k == 'box'"}], "mark": {"type": "bar", "stroke": "#111", "strokeWidth": 0.8},
     "encoding": {"xOffset": {"field": "g", "type": "nominal"}, "y": {"field": "q1", "type": "quantitative", "axis": {"values": [4,5,6,7], "labelOverlap": false}}, "y2": {"field": "q3"},
      "fill": {"field": "g", "type": "nominal", "scale": {"domain": ["T","N"], "range": ["#e31b1b","#262626"]}, "legend": null}}},
    {"transform": [{"filter": "datum.k == 'zero'"}], "mark": {"type": "bar", "fill": "#222", "stroke": "#222", "strokeWidth": 2.5},
     "encoding": {"xOffset": {"field": "g", "type": "nominal"}, "y": {"field": "v", "type": "quantitative", "axis": {"values": [4,5,6,7], "labelOverlap": false}}, "y2": {"field": "v"}}},
    {"transform": [{"filter": "datum.k == 'pt'"}], "mark": {"type": "circle", "size": 6, "color": "#000", "opacity": 0.55},
     "encoding": {"xOffset": {"field": "g", "type": "nominal"}, "y": {"field": "v", "type": "quantitative", "axis": {"values": [4,5,6,7], "labelOverlap": false}}}},
    {"transform": [{"filter": "datum.k == 'box'"}], "mark": {"type": "bar", "stroke": "#000", "strokeWidth": 1.5, "fillOpacity": 0},
     "encoding": {"xOffset": {"field": "g", "type": "nominal"}, "y": {"field": "med", "type": "quantitative", "axis": {"values": [4,5,6,7], "labelOverlap": false}}, "y2": {"field": "med"}}},
    {"transform": [{"filter": "datum.k == 'brk'"}], "mark": {"type": "line", "color": "#9a9a9a", "strokeWidth": 0.8},
     "encoding": {"xOffset": {"field": "g", "type": "nominal"}, "y": {"field": "v", "type": "quantitative", "axis": {"values": [4,5,6,7], "labelOverlap": false}}, "order": {"field": "s", "type": "quantitative"}}},
    {"transform": [{"filter": "datum.k == 'sig'"}], "mark": {"type": "square", "size": 10, "color": "#d0101b", "opacity": 1},
     "encoding": {"y": {"field": "v", "type": "quantitative", "axis": {"values": [4,5,6,7], "labelOverlap": false}}}}
   ]},
  {"width": 98, "height": 114, "title": "LYN", "data": {"name": "bx"},
   "transform": [{"filter": "datum.p == 'LYN'"}],
   "encoding": {"x": {"field": "c", "type": "nominal", "title": "(num(T) = 306; num(N) = 13)", "scale": {"paddingInner": 0, "paddingOuter": 0.39}}},
   "layer": [
    {"transform": [{"filter": "datum.k == 'box'"}], "mark": {"type": "rule", "color": "#000", "strokeWidth": 0.8},
     "encoding": {"xOffset": {"field": "g", "type": "nominal", "scale": {"domain": ["T","N"], "paddingInner": 0.19, "paddingOuter": 0}},
      "y": {"field": "lo", "type": "quantitative", "scale": {"domain": [-0.7, 0, 2, 3, 4, 5, 6, 6.65], "range": [114, 107.3, 88.4, 69.3, 50.3, 31.4, 12.3, 0], "nice": false, "zero": false}, "axis": {"values": [0,2,3,4,5,6], "labelOverlap": false}},
      "y2": {"field": "hi"}}},
    {"transform": [{"filter": "datum.k == 'box'"}, {"fold": ["lo","hi"], "as": ["w","cv"]}], "mark": {"type": "tick", "color": "#000", "size": 10, "thickness": 1},
     "encoding": {"xOffset": {"field": "g", "type": "nominal"}, "y": {"field": "cv", "type": "quantitative", "axis": {"values": [0,2,3,4,5,6], "labelOverlap": false}}}},
    {"transform": [{"filter": "datum.k == 'box'"}], "mark": {"type": "bar", "stroke": "#111", "strokeWidth": 0.8},
     "encoding": {"xOffset": {"field": "g", "type": "nominal"}, "y": {"field": "q1", "type": "quantitative", "axis": {"values": [0,2,3,4,5,6], "labelOverlap": false}}, "y2": {"field": "q3"},
      "fill": {"field": "g", "type": "nominal", "scale": {"domain": ["T","N"], "range": ["#e31b1b","#262626"]}, "legend": null}}},
    {"transform": [{"filter": "datum.k == 'zero'"}], "mark": {"type": "bar", "fill": "#222", "stroke": "#222", "strokeWidth": 2.5},
     "encoding": {"xOffset": {"field": "g", "type": "nominal"}, "y": {"field": "v", "type": "quantitative", "axis": {"values": [0,2,3,4,5,6], "labelOverlap": false}}, "y2": {"field": "v"}}},
    {"transform": [{"filter": "datum.k == 'pt'"}], "mark": {"type": "circle", "size": 6, "color": "#000", "opacity": 0.55},
     "encoding": {"xOffset": {"field": "g", "type": "nominal"}, "y": {"field": "v", "type": "quantitative", "axis": {"values": [0,2,3,4,5,6], "labelOverlap": false}}}},
    {"transform": [{"filter": "datum.k == 'box'"}], "mark": {"type": "bar", "stroke": "#000", "strokeWidth": 1.5, "fillOpacity": 0},
     "encoding": {"xOffset": {"field": "g", "type": "nominal"}, "y": {"field": "med", "type": "quantitative", "axis": {"values": [0,2,3,4,5,6], "labelOverlap": false}}, "y2": {"field": "med"}}},
    {"transform": [{"filter": "datum.k == 'brk'"}], "mark": {"type": "line", "color": "#9a9a9a", "strokeWidth": 0.8},
     "encoding": {"xOffset": {"field": "g", "type": "nominal"}, "y": {"field": "v", "type": "quantitative", "axis": {"values": [0,2,3,4,5,6], "labelOverlap": false}}, "order": {"field": "s", "type": "quantitative"}}},
    {"transform": [{"filter": "datum.k == 'sig'"}], "mark": {"type": "square", "size": 10, "color": "#d0101b", "opacity": 1},
     "encoding": {"y": {"field": "v", "type": "quantitative", "axis": {"values": [0,2,3,4,5,6], "labelOverlap": false}}}}
   ]},
  {"width": 96, "height": 114, "title": "COL6A3", "data": {"name": "bx"},
   "transform": [{"filter": "datum.p == 'COL6A3'"}],
   "encoding": {"x": {"field": "c", "type": "nominal", "title": "(num(T) = 306; num(N) = 13)", "scale": {"paddingInner": 0, "paddingOuter": 0.39}}},
   "layer": [
    {"transform": [{"filter": "datum.k == 'box'"}], "mark": {"type": "rule", "color": "#000", "strokeWidth": 0.8},
     "encoding": {"xOffset": {"field": "g", "type": "nominal", "scale": {"domain": ["T","N"], "paddingInner": 0.19, "paddingOuter": 0}},
      "y": {"field": "lo", "type": "quantitative", "scale": {"domain": [0.03, 2, 4, 5, 6, 6.81], "range": [114, 90.6, 67.0, 43.3, 19.4, 0], "nice": false, "zero": false}, "axis": {"values": [2,4,5,6], "labelOverlap": false}},
      "y2": {"field": "hi"}}},
    {"transform": [{"filter": "datum.k == 'box'"}, {"fold": ["lo","hi"], "as": ["w","cv"]}], "mark": {"type": "tick", "color": "#000", "size": 10, "thickness": 1},
     "encoding": {"xOffset": {"field": "g", "type": "nominal"}, "y": {"field": "cv", "type": "quantitative", "axis": {"values": [2,4,5,6], "labelOverlap": false}}}},
    {"transform": [{"filter": "datum.k == 'box'"}], "mark": {"type": "bar", "stroke": "#111", "strokeWidth": 0.8},
     "encoding": {"xOffset": {"field": "g", "type": "nominal"}, "y": {"field": "q1", "type": "quantitative", "axis": {"values": [2,4,5,6], "labelOverlap": false}}, "y2": {"field": "q3"},
      "fill": {"field": "g", "type": "nominal", "scale": {"domain": ["T","N"], "range": ["#e31b1b","#262626"]}, "legend": null}}},
    {"transform": [{"filter": "datum.k == 'zero'"}], "mark": {"type": "bar", "fill": "#222", "stroke": "#222", "strokeWidth": 2.5},
     "encoding": {"xOffset": {"field": "g", "type": "nominal"}, "y": {"field": "v", "type": "quantitative", "axis": {"values": [2,4,5,6], "labelOverlap": false}}, "y2": {"field": "v"}}},
    {"transform": [{"filter": "datum.k == 'pt'"}], "mark": {"type": "circle", "size": 6, "color": "#000", "opacity": 0.55},
     "encoding": {"xOffset": {"field": "g", "type": "nominal"}, "y": {"field": "v", "type": "quantitative", "axis": {"values": [2,4,5,6], "labelOverlap": false}}}},
    {"transform": [{"filter": "datum.k == 'box'"}], "mark": {"type": "bar", "stroke": "#000", "strokeWidth": 1.5, "fillOpacity": 0},
     "encoding": {"xOffset": {"field": "g", "type": "nominal"}, "y": {"field": "med", "type": "quantitative", "axis": {"values": [2,4,5,6], "labelOverlap": false}}, "y2": {"field": "med"}}},
    {"transform": [{"filter": "datum.k == 'brk'"}], "mark": {"type": "line", "color": "#9a9a9a", "strokeWidth": 0.8},
     "encoding": {"xOffset": {"field": "g", "type": "nominal"}, "y": {"field": "v", "type": "quantitative", "axis": {"values": [2,4,5,6], "labelOverlap": false}}, "order": {"field": "s", "type": "quantitative"}}},
    {"transform": [{"filter": "datum.k == 'sig'"}], "mark": {"type": "square", "size": 10, "color": "#d0101b", "opacity": 1},
     "encoding": {"y": {"field": "v", "type": "quantitative", "axis": {"values": [2,4,5,6], "labelOverlap": false}}}}
   ]},
  {"width": 97, "height": 114, "title": "CCL21", "data": {"name": "bx"},
   "transform": [{"filter": "datum.p == 'CCL21'"}],
   "encoding": {"x": {"field": "c", "type": "nominal", "title": "(num(T) = 306; num(N) = 13)", "scale": {"paddingInner": 0, "paddingOuter": 0.39}}},
   "layer": [
    {"transform": [{"filter": "datum.k == 'box'"}], "mark": {"type": "rule", "color": "#000", "strokeWidth": 0.8},
     "encoding": {"xOffset": {"field": "g", "type": "nominal", "scale": {"domain": ["T","N"], "paddingInner": 0.19, "paddingOuter": 0}},
      "y": {"field": "lo", "type": "quantitative", "scale": {"domain": [-0.41, 0, 2, 4, 5, 6, 6.78], "range": [114, 109.3, 86.6, 63.6, 41.0, 18.0, 0], "nice": false, "zero": false}, "axis": {"values": [0,2,4,5,6], "labelOverlap": false}},
      "y2": {"field": "hi"}}},
    {"transform": [{"filter": "datum.k == 'box'"}, {"fold": ["lo","hi"], "as": ["w","cv"]}], "mark": {"type": "tick", "color": "#000", "size": 10, "thickness": 1},
     "encoding": {"xOffset": {"field": "g", "type": "nominal"}, "y": {"field": "cv", "type": "quantitative", "axis": {"values": [0,2,4,5,6], "labelOverlap": false}}}},
    {"transform": [{"filter": "datum.k == 'box'"}], "mark": {"type": "bar", "stroke": "#111", "strokeWidth": 0.8},
     "encoding": {"xOffset": {"field": "g", "type": "nominal"}, "y": {"field": "q1", "type": "quantitative", "axis": {"values": [0,2,4,5,6], "labelOverlap": false}}, "y2": {"field": "q3"},
      "fill": {"field": "g", "type": "nominal", "scale": {"domain": ["T","N"], "range": ["#e31b1b","#262626"]}, "legend": null}}},
    {"transform": [{"filter": "datum.k == 'zero'"}], "mark": {"type": "bar", "fill": "#222", "stroke": "#222", "strokeWidth": 2.5},
     "encoding": {"xOffset": {"field": "g", "type": "nominal"}, "y": {"field": "v", "type": "quantitative", "axis": {"values": [0,2,4,5,6], "labelOverlap": false}}, "y2": {"field": "v"}}},
    {"transform": [{"filter": "datum.k == 'pt'"}], "mark": {"type": "circle", "size": 6, "color": "#000", "opacity": 0.55},
     "encoding": {"xOffset": {"field": "g", "type": "nominal"}, "y": {"field": "v", "type": "quantitative", "axis": {"values": [0,2,4,5,6], "labelOverlap": false}}}},
    {"transform": [{"filter": "datum.k == 'box'"}], "mark": {"type": "bar", "stroke": "#000", "strokeWidth": 1.5, "fillOpacity": 0},
     "encoding": {"xOffset": {"field": "g", "type": "nominal"}, "y": {"field": "med", "type": "quantitative", "axis": {"values": [0,2,4,5,6], "labelOverlap": false}}, "y2": {"field": "med"}}},
    {"transform": [{"filter": "datum.k == 'brk'"}], "mark": {"type": "line", "color": "#9a9a9a", "strokeWidth": 0.8},
     "encoding": {"xOffset": {"field": "g", "type": "nominal"}, "y": {"field": "v", "type": "quantitative", "axis": {"values": [0,2,4,5,6], "labelOverlap": false}}, "order": {"field": "s", "type": "quantitative"}}},
    {"transform": [{"filter": "datum.k == 'sig'"}], "mark": {"type": "square", "size": 10, "color": "#d0101b", "opacity": 1},
     "encoding": {"y": {"field": "v", "type": "quantitative", "axis": {"values": [0,2,4,5,6], "labelOverlap": false}}}}
   ]}
 ]}
]
}
